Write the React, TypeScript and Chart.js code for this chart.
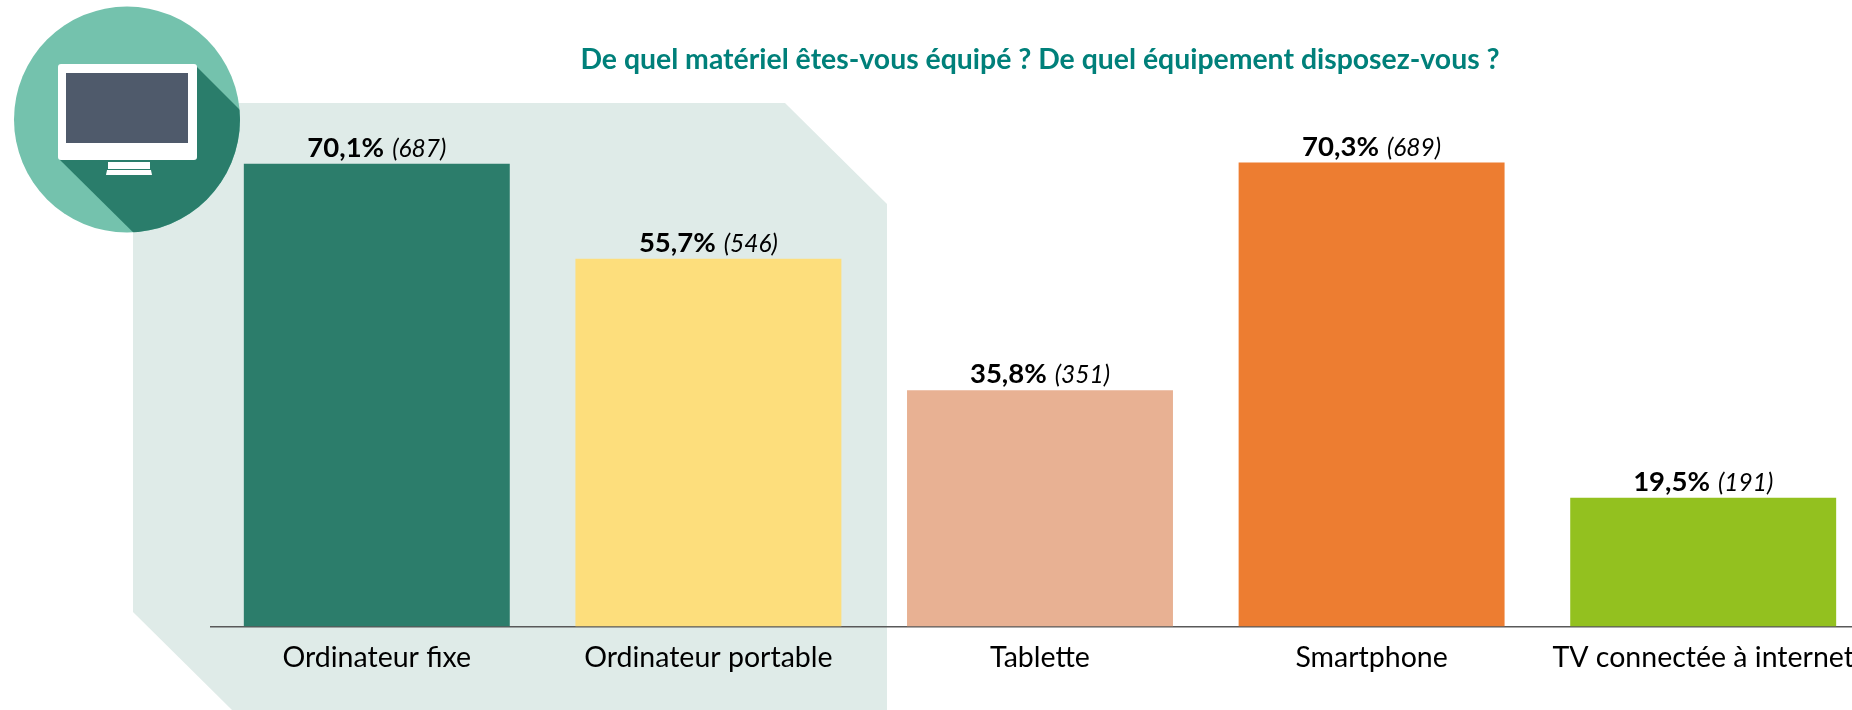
import React, { useEffect, useRef } from "react";
import { Chart, registerables } from "chart.js";

Chart.register(...registerables);

const categories = ["Ordinateur fixe", "Ordinateur portable", "Tablette", "Smartphone", "TV connectée à internet"];
const percentValues = [70.1, 55.7, 35.8, 70.3, 19.5];
const percentLabels = ["70,1%", "55,7%", "35,8%", "70,3%", "19,5%"];
const countLabels = ["(687)", "(546)", "(351)", "(689)", "(191)"];
const barColors = ["#2C7D6B", "#FDDE7C", "#E8B193", "#ED7D31", "#93C11F"];
const titleText = "De quel matériel êtes-vous équipé ? De quel équipement disposez-vous ?";

const FONT = "Lato, Carlito, Calibri, sans-serif";

const backdropPlugin = {
  id: "backdrop",
  beforeDraw(chart: any) {
    const c = chart.ctx;
    c.save();
    c.fillStyle = "#DFEBE8";
    c.beginPath();
    c.moveTo(133, 103);
    c.lineTo(785, 103);
    c.lineTo(887, 204);
    c.lineTo(887, 710);
    c.lineTo(232, 710);
    c.lineTo(133, 612);
    c.closePath();
    c.fill();

    // icon
    c.fillStyle = "#74C2AD";
    c.beginPath();
    c.arc(127, 119.5, 113, 0, Math.PI * 2);
    c.fill();
    c.save();
    c.beginPath();
    c.arc(127, 119.5, 113, 0, Math.PI * 2);
    c.clip();
    c.fillStyle = "#2A7D6B";
    c.beginPath();
    c.moveTo(197, 67);
    c.lineTo(250, 120);
    c.lineTo(250, 250);
    c.lineTo(151, 250);
    c.lineTo(60, 160);
    c.closePath();
    c.fill();
    c.restore();
    c.fillStyle = "#FFFFFF";
    c.beginPath();
    c.roundRect(58, 64, 139, 96, 3);
    c.fill();
    c.fillRect(108, 162, 42, 7);
    c.beginPath();
    c.moveTo(107, 170);
    c.lineTo(151, 170);
    c.lineTo(152, 175);
    c.lineTo(106, 175);
    c.closePath();
    c.fill();
    c.fillStyle = "#4F5A6B";
    c.fillRect(66, 73, 122, 70);
    c.restore();
  },
};

const valueLabelPlugin = {
  id: "valueLabels",
  afterDatasetsDraw(chart: any) {
    const c = chart.ctx;
    const bars = chart.getDatasetMeta(0).data;
    c.save();
    c.textBaseline = "alphabetic";
    c.textAlign = "left";
    c.fillStyle = "#000000";
    bars.forEach((bar: any, i: number) => {
      const boldFont = `bold 27.5px ${FONT}`;
      const italicFont = `italic 24.5px ${FONT}`;
      c.font = boldFont;
      const w1 = c.measureText(percentLabels[i]).width;
      c.font = italicFont;
      const w2 = c.measureText(countLabels[i]).width;
      const gap = 8;
      const x0 = bar.x - (w1 + gap + w2) / 2;
      const y = bar.y - 7;
      c.font = boldFont;
      c.fillText(percentLabels[i], x0, y);
      c.font = italicFont;
      c.fillText(countLabels[i], x0 + w1 + gap, y);
    });
    c.restore();
  },
};

export default function App() {
  const ref = useRef<HTMLCanvasElement | null>(null);
  useEffect(() => {
    document.body.style.margin = "0";
    const chart = new Chart(ref.current as HTMLCanvasElement, {
      type: "bar",
      data: {
        labels: categories,
        datasets: [
          {
            data: percentValues,
            backgroundColor: barColors,
            barPercentage: 0.802,
            categoryPercentage: 1,
          },
        ],
      },
      options: {
        responsive: false,
        animation: false,
        layout: { padding: { left: 211, right: 0, top: 0, bottom: 0 } },
        plugins: {
          legend: { display: false },
          tooltip: { enabled: false },
          title: {
            display: true,
            text: titleText,
            fullSize: false,
            color: "#00807A",
            font: { family: FONT, size: 28.4, weight: "bold", lineHeight: 1.2 },
            padding: { top: 43, bottom: 21.4 },
          },
        },
        scales: {
          x: {
            grid: { display: false },
            border: { display: true, color: "#595959", width: 1.5 },
            ticks: { color: "#000000", font: { family: FONT, size: 28.5 }, padding: 6.5, maxRotation: 0, autoSkip: false },
            afterFit(scale: any) {
              scale.height = 83.5;
            },
          },
          y: { display: false, min: 0, max: 80 },
        },
      },
      plugins: [backdropPlugin, valueLabelPlugin],
    } as any);
    return () => chart.destroy();
  }, []);
  return (
    <div style={{ position: "absolute", left: 0, top: 0, width: 1852, height: 710, overflow: "hidden", background: "#fff" }}>
      <canvas ref={ref} width={1869} height={710} style={{ display: "block" }} />
    </div>
  );
}
